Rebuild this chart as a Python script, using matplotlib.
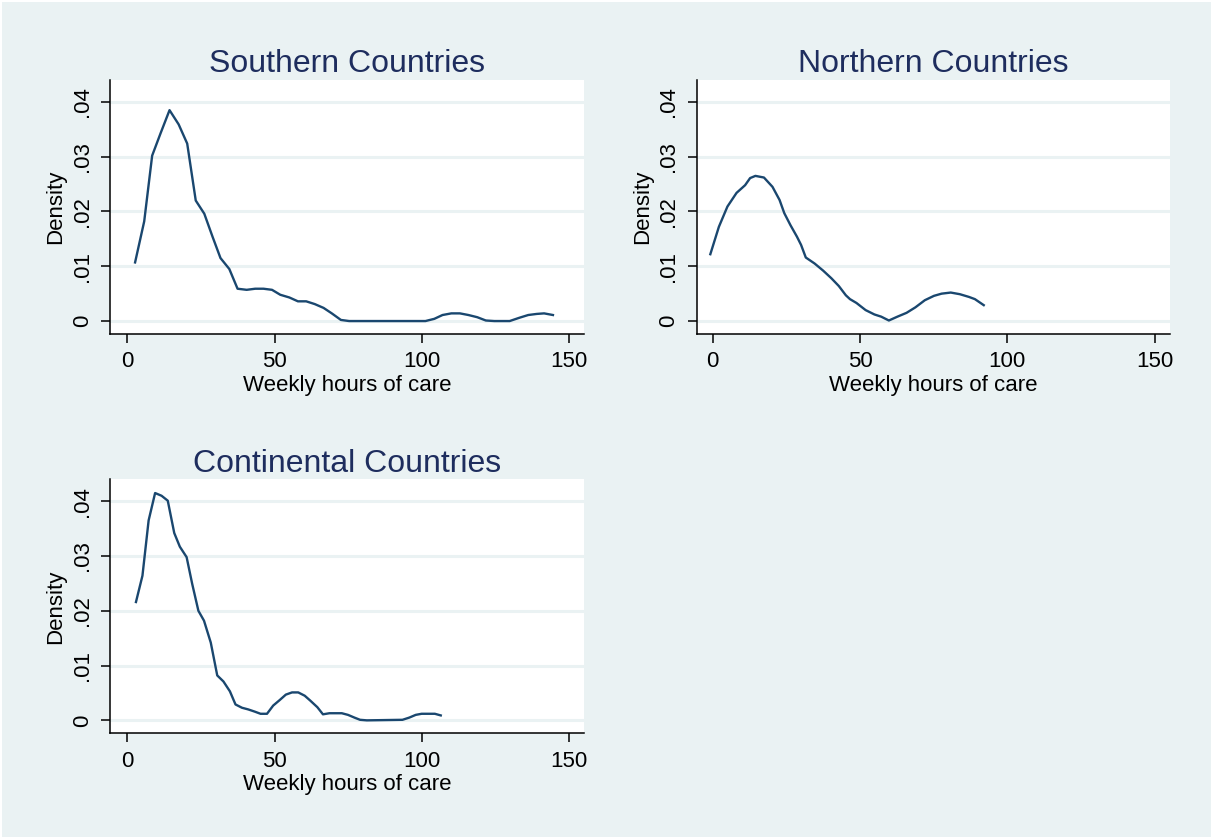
import matplotlib
matplotlib.use('Agg')
from matplotlib import pyplot as plt

plt.rcParams['font.family'] = ['Liberation Sans', 'DejaVu Sans']

# kernel density curves
south_x = [2.6, 5.7, 8.4, 11.2, 14.3, 17.4, 20.3, 23.2, 26.1, 28.9, 31.6, 34.6, 37.4,
           40.5, 43.4, 46.2, 49.1, 51.9, 55.0, 57.9, 60.7, 63.6, 66.6, 69.4, 72.5, 75.3,
           101.2, 104.2, 107.0, 110.0, 112.9, 115.8, 118.8, 121.7, 124.6, 129.8, 133.1,
           136.1, 139.0, 141.5, 144.5]
south_y = [0.0107, 0.0182, 0.0302, 0.0342, 0.0385, 0.0359, 0.0324, 0.0220, 0.0196, 0.0154,
           0.0115, 0.0095, 0.0059, 0.0057, 0.0059, 0.0059, 0.0057, 0.0048, 0.0043, 0.0036,
           0.0036, 0.0031, 0.0024, 0.0014, 0.0002, 0.0,
           0.0, 0.0004, 0.0011, 0.0014, 0.0014, 0.0011, 0.0007, 0.0001, 0.0, 0.0, 0.0006,
           0.0011, 0.0013, 0.0014, 0.0011]

north_x = [-0.8, 2.1, 5.0, 8.1, 11.0, 12.7, 14.5, 17.4, 20.3, 22.7, 24.3, 26.4, 28.6, 30.0,
           31.6, 34.6, 37.5, 40.3, 42.8, 45.2, 46.6, 48.8, 51.9, 54.9, 57.2, 59.8, 62.7,
           65.8, 68.8, 72.0, 75.1, 77.7, 80.8, 83.9, 87.0, 89.0, 92.0]
north_y = [0.0122, 0.0172, 0.0209, 0.0234, 0.0248, 0.0261, 0.0265, 0.0262, 0.0245, 0.0221,
           0.0197, 0.0175, 0.0154, 0.0139, 0.0116, 0.0105, 0.0092, 0.0078, 0.0064, 0.0047,
           0.0040, 0.0033, 0.0020, 0.0012, 0.0008, 0.0001, 0.0008, 0.0015, 0.0025, 0.0038,
           0.0046, 0.0050, 0.0052, 0.0049, 0.0044, 0.0040, 0.0029]

cont_x = [2.9, 5.1, 7.2, 9.4, 11.6, 13.7, 15.9, 17.8, 20.1, 22.0, 24.1, 26.0, 28.3, 30.5,
          32.6, 34.8, 36.7, 38.9, 41.0, 43.2, 45.2, 47.4, 49.5, 51.7, 53.8, 55.9, 58.0,
          60.2, 62.1, 64.5, 66.4, 68.6, 70.6, 72.8, 74.9, 77.1, 79.0, 81.3, 93.4, 95.7,
          97.9, 99.9, 102.2, 104.4, 106.4]
cont_y = [0.0216, 0.0264, 0.0365, 0.0415, 0.0410, 0.0401, 0.0342, 0.0317, 0.0298, 0.0249,
          0.0200, 0.0182, 0.0142, 0.0082, 0.0071, 0.0053, 0.0029, 0.0023, 0.0020, 0.0016,
          0.0012, 0.0012, 0.0027, 0.0037, 0.0047, 0.0051, 0.0051, 0.0045, 0.0036, 0.0024,
          0.0011, 0.0013, 0.0013, 0.0013, 0.0010, 0.0005, 0.0001, 0.0, 0.0001, 0.0005,
          0.0010, 0.0012, 0.0012, 0.0012, 0.0009]

x_ticks = [0, 50, 100, 150]
y_ticks = [0, 0.01, 0.02, 0.03, 0.04]
y_tick_labels = ['0', '.01', '.02', '.03', '.04']

bg = '#EAF2F3'
line_col = '#1A476F'
title_col = '#1E2D5E'

fig = plt.figure(figsize=(12.12, 8.38), dpi=100, facecolor=bg)
fig.patch.set_edgecolor('white')
fig.patch.set_linewidth(2)

panels = [
    ('Southern Countries', south_x, south_y, [0.0908, 0.6014, 0.3907, 0.3031], (-5.9, 154.9)),
    ('Northern Countries', north_x, north_y, [0.5749, 0.6014, 0.3904, 0.3031], (-5.4, 155.2)),
    ('Continental Countries', cont_x, cont_y, [0.0908, 0.1249, 0.3907, 0.3031], (-5.9, 154.9)),
]

for title, xs, ys, pos, xlim in panels:
    ax = fig.add_axes(pos)
    ax.set_facecolor('white')
    ax.plot(xs, ys, color=line_col, lw=1.7)
    ax.set_xlim(*xlim)
    ax.set_ylim(-0.00237, 0.0440)
    ax.set_xticks(x_ticks)
    ax.set_yticks(y_ticks)
    ax.set_yticklabels(y_tick_labels, rotation=90, va='center')
    ax.grid(axis='y', color=bg, lw=2.2)
    ax.set_axisbelow(True)
    for s in ['top', 'right']:
        ax.spines[s].set_visible(False)
    for s in ['left', 'bottom']:
        ax.spines[s].set_color('black')
        ax.spines[s].set_linewidth(1.1)
    ax.tick_params(axis='both', direction='out', length=6.5, width=1.1, labelsize=16, pad=6, colors='black')
    ax.set_title(title, fontsize=23, color=title_col, pad=5.5)
    ax.set_xlabel('Weekly hours of care', fontsize=16, labelpad=2)
    ax.set_ylabel('Density', fontsize=16, labelpad=4)

fig.savefig('out.png', dpi=100, facecolor=bg, edgecolor='white')
